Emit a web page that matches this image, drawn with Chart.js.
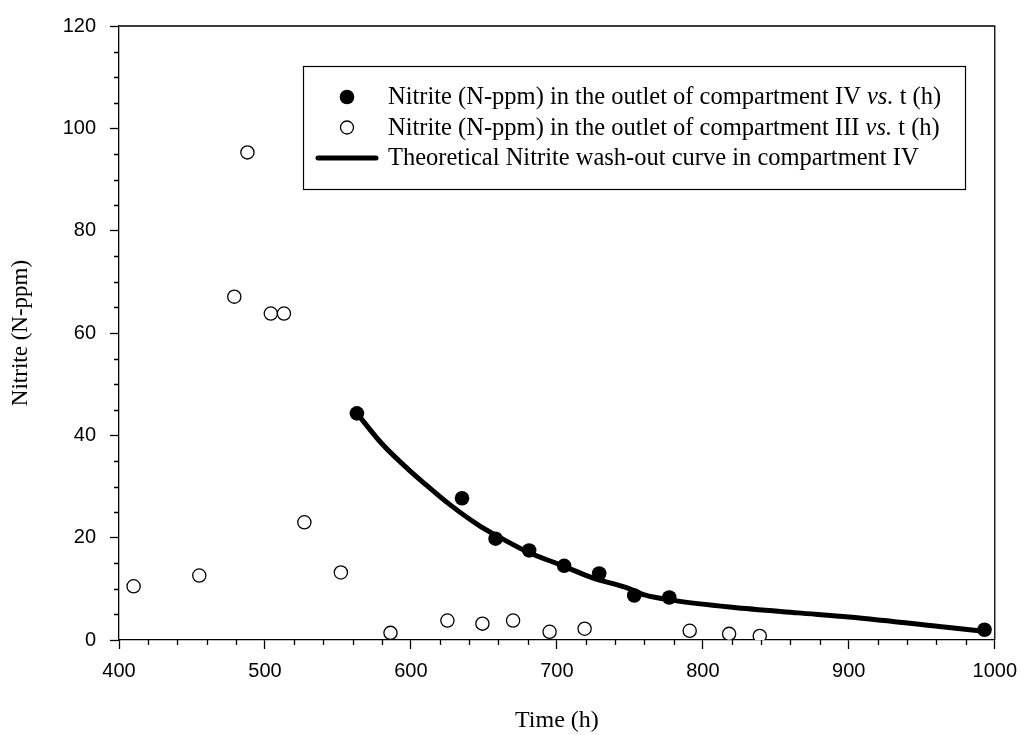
<!DOCTYPE html>
<html>
<head>
<meta charset="utf-8">
<script src="https://cdn.jsdelivr.net/npm/chart.js@4.4.1/dist/chart.umd.min.js"></script>
<style>
  html, body { margin: 0; padding: 0; background: #fff; }
  #wrap { width: 1027px; height: 735px; }
</style>
</head>
<body>
<div id="wrap"><canvas id="chart" width="1027" height="735"></canvas></div>
<script>
// nitrite in the outlet of compartment IV (filled dots)
const ivTime = [563, 635, 658, 681, 705, 729, 753, 777, 993];
const ivNitrite = [44.3, 27.7, 19.8, 17.5, 14.5, 13.0, 8.7, 8.3, 2.0];

// nitrite in the outlet of compartment III (open dots)
const iiiTime = [410, 455, 479, 488, 504, 513, 527, 552, 586, 625, 649, 670, 695, 719, 791, 818, 839];
const iiiNitrite = [10.5, 12.6, 67.1, 95.3, 63.8, 63.8, 23.0, 13.2, 1.4, 3.8, 3.2, 3.8, 1.6, 2.2, 1.8, 1.2, 0.8];

// theoretical wash-out curve, compartment IV
const curveTime = [563, 580, 598, 610, 626, 646, 658, 680, 705, 724, 749, 760, 781, 820, 865, 900, 967, 993];
const curveNitrite = [44.3, 38.4, 33.4, 30.4, 26.6, 22.5, 20.5, 17.2, 14.4, 12.2, 10.1, 8.8, 7.7, 6.4, 5.3, 4.5, 2.5, 1.7];

const legendRows = [
  { kind: "filled", parts: [["Nitrite (N-ppm) in the outlet of compartment IV ", false], ["vs.", true], [" t (h)", false]] },
  { kind: "open", parts: [["Nitrite (N-ppm) in the outlet of compartment III ", false], ["vs.", true], [" t (h)", false]] },
  { kind: "line", parts: [["Theoretical Nitrite wash-out curve in compartment IV", false]] },
];

const xMin = 400, xMax = 1000, xMajor = 100, xMinor = 20;
const yMin = 0, yMax = 120, yMajor = 20, yMinor = 5;

const toPts = (xs, ys) => xs.map((x, i) => ({ x, y: ys[i] }));
const serif = "'Liberation Serif', 'Times New Roman', serif";
const sans = "'Liberation Sans', Arial, sans-serif";

const extras = {
  id: "extras",
  afterDraw(chart) {
    const { ctx, chartArea: a, scales } = chart;
    ctx.save();
    ctx.strokeStyle = "#000";
    ctx.lineWidth = 1.3;
    // frame top + right
    ctx.beginPath();
    ctx.moveTo(a.left, a.top);
    ctx.lineTo(a.right, a.top);
    ctx.lineTo(a.right, a.bottom);
    ctx.stroke();
    // minor ticks
    ctx.beginPath();
    for (let v = xMin; v <= xMax; v += xMinor) {
      if (v % xMajor === 0) continue;
      const px = Math.round(scales.x.getPixelForValue(v)) + 0.5;
      ctx.moveTo(px, a.bottom);
      ctx.lineTo(px, a.bottom + 5);
    }
    for (let v = yMin; v <= yMax; v += yMinor) {
      if (v % yMajor === 0) continue;
      const py = Math.round(scales.y.getPixelForValue(v)) + 0.5;
      ctx.moveTo(a.left, py);
      ctx.lineTo(a.left - 5, py);
    }
    ctx.stroke();

    // legend box
    const bx = 303, by = 66, bw = 662, bh = 123;
    ctx.fillStyle = "#fff";
    ctx.fillRect(bx, by, bw, bh);
    ctx.lineWidth = 1.2;
    ctx.strokeRect(bx + 0.5, by + 0.5, bw, bh);
    const rowY = [97, 127.5, 158];
    ctx.textBaseline = "middle";
    legendRows.forEach((row, i) => {
      const y = rowY[i];
      ctx.fillStyle = "#000";
      if (row.kind === "filled") {
        ctx.beginPath(); ctx.arc(347, y, 7.3, 0, Math.PI * 2); ctx.fill();
      } else if (row.kind === "open") {
        ctx.beginPath(); ctx.arc(347, y, 6.5, 0, Math.PI * 2);
        ctx.lineWidth = 1.3; ctx.stroke();
      } else {
        ctx.beginPath(); ctx.moveTo(318, y); ctx.lineTo(376, y);
        ctx.lineWidth = 5; ctx.lineCap = "round"; ctx.stroke(); ctx.lineCap = "butt";
      }
      let x = 388;
      for (const [t, it] of row.parts) {
        ctx.font = (it ? "italic " : "") + "24.5px " + serif;
        ctx.fillText(t, x, y + 1);
        x += ctx.measureText(t).width;
      }
    });
    ctx.restore();
  },
};

new Chart(document.getElementById("chart"), {
  type: "scatter",
  data: {
    datasets: [
      {
        label: "Nitrite (N-ppm) in the outlet of compartment IV vs. t (h)",
        data: toPts(ivTime, ivNitrite),
        pointRadius: 7.3,
        pointBackgroundColor: "#000",
        pointBorderWidth: 0,
        order: 1,
      },
      {
        label: "Nitrite (N-ppm) in the outlet of compartment III vs. t (h)",
        data: toPts(iiiTime, iiiNitrite),
        pointRadius: 6.6,
        pointBackgroundColor: "#fff",
        pointBorderColor: "#000",
        pointBorderWidth: 1.3,
        order: 2,
      },
      {
        type: "line",
        label: "Theoretical Nitrite wash-out curve in compartment IV",
        data: toPts(curveTime, curveNitrite),
        borderColor: "#000",
        borderWidth: 5,
        pointRadius: 0,
        fill: false,
        cubicInterpolationMode: "monotone",
        borderCapStyle: "round",
        order: 3,
      },
    ],
  },
  options: {
    responsive: false,
    animation: false,
    layout: { padding: { left: 0, right: 26, top: 24, bottom: 0 } },
    plugins: { legend: { display: false }, tooltip: { enabled: false } },
    scales: {
      x: {
        type: "linear",
        min: xMin, max: xMax,
        afterFit: (s) => { s.height = 95; },
        ticks: { stepSize: xMajor, padding: 10, color: "#000", font: { family: sans, size: 20 }, callback: (v) => String(v) },
        grid: { drawOnChartArea: false, drawTicks: true, tickLength: 9, tickColor: "#000", tickWidth: 1.3 },
        border: { color: "#000", width: 1.3 },
        title: { display: true, text: "Time (h)", color: "#000", font: { family: serif, size: 24 }, padding: { top: 0, bottom: 0 } },
      },
      y: {
        min: yMin, max: yMax,
        afterFit: (s) => { s.width = 119; },
        ticks: { stepSize: yMajor, padding: 14, color: "#000", font: { family: sans, size: 20 }, callback: (v) => String(v) },
        grid: { drawOnChartArea: false, drawTicks: true, tickLength: 9, tickColor: "#000", tickWidth: 1.3 },
        border: { color: "#000", width: 1.3 },
        title: { display: true, text: "Nitrite (N-ppm)", color: "#000", font: { family: serif, size: 23 }, padding: { top: 7, bottom: 0 } },
      },
    },
  },
  plugins: [extras],
});
</script>
</body>
</html>
